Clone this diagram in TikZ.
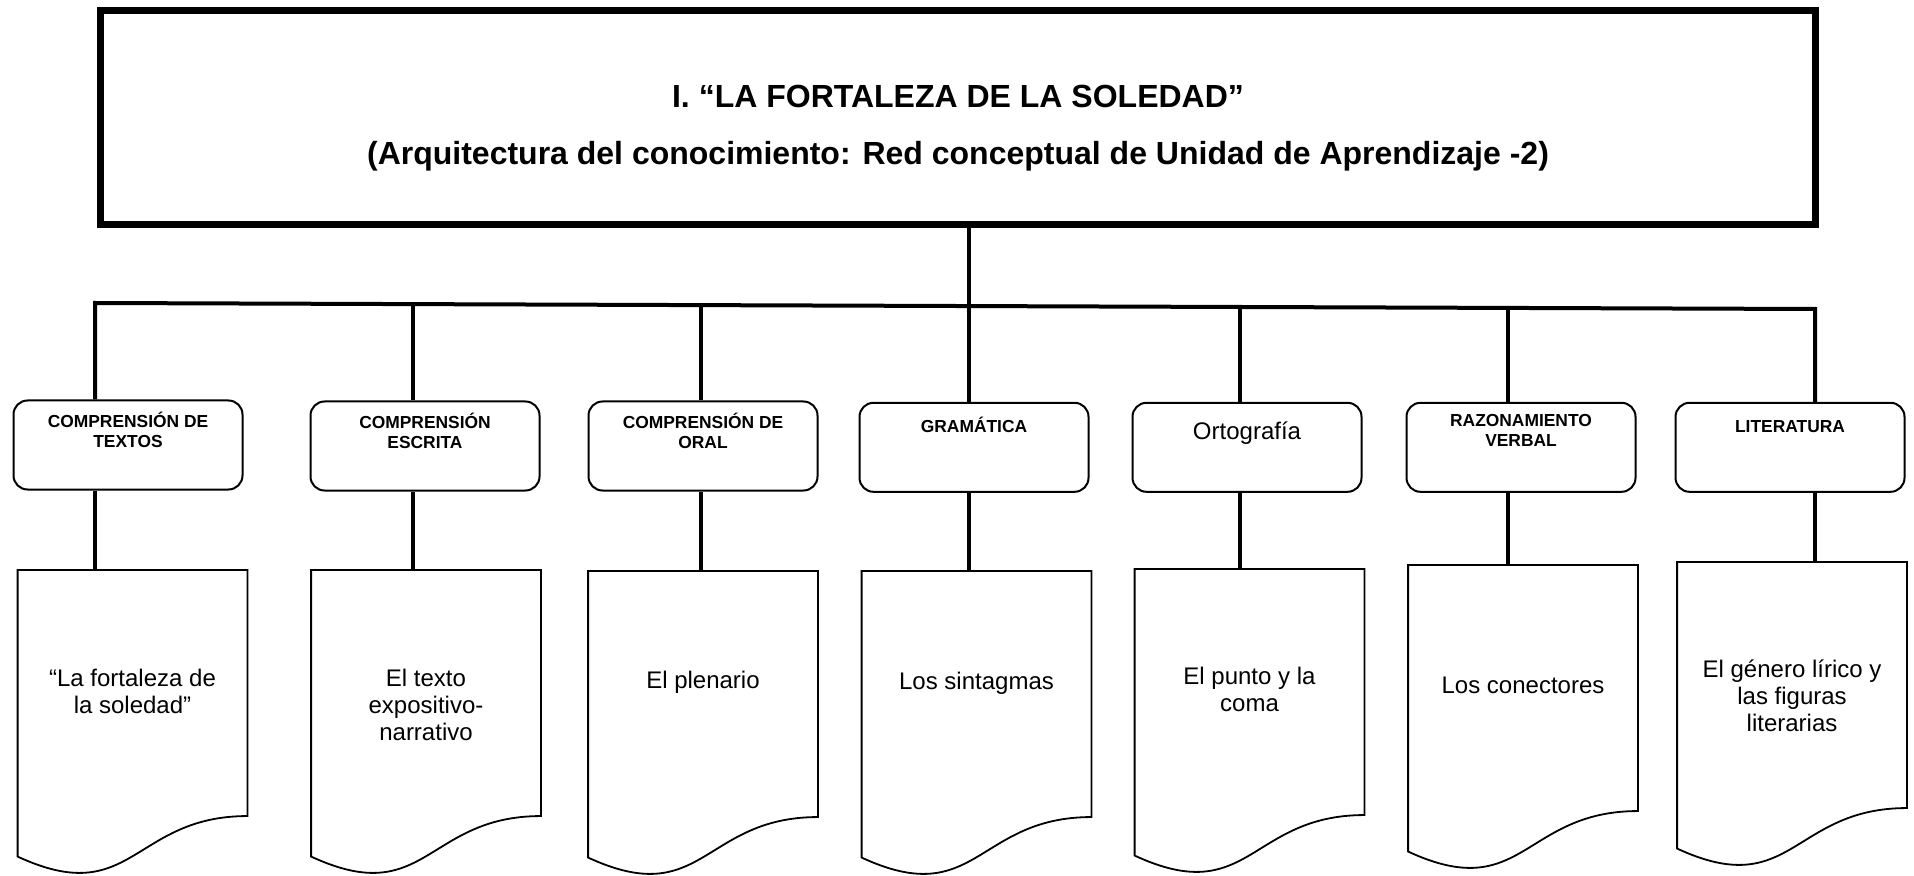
\documentclass[tikz,border=0pt]{standalone}
\usepackage{fontspec}
\setmainfont{Liberation Sans}
\usetikzlibrary{calc}

% outline of a flowchart document (wavy bottom) around a named node
\newcommand{\docshape}[1]{%
  \draw[docline] (#1.north west) -- (#1.north east)
    -- ($(#1.north east)!0.802!(#1.south east)$)
    .. controls ($(#1.north)!0.802!(#1.south)$) and ($(#1.north)!1.1075!(#1.south)$)
    .. ($(#1.north west)!0.934!(#1.south west)$) -- cycle;}

\begin{document}
\begin{tikzpicture}[x=0.5pt,y=-0.5pt,
      titlebox/.style={draw,line width=3.5pt,minimum width=857.5pt,minimum height=107pt},
      titletext/.style={font=\fontsize{16}{19}\selectfont\bfseries,inner sep=0pt,anchor=base},
      catbox/.style={draw,line width=1pt,rounded corners=7pt,minimum width=114.5pt,minimum height=44.5pt},
      cattext/.style={font=\fontsize{8.7}{10}\selectfont\bfseries,align=center,anchor=north,
        inner sep=0pt,execute at begin node=\rule{0pt}{9pt}},
      docbox/.style={minimum width=114.5pt,minimum height=153pt,anchor=north,inner sep=0pt},
      doctext/.style={font=\fontsize{12}{13.5}\selectfont,align=center,anchor=north,
        inner sep=0pt,execute at begin node=\rule{0pt}{10pt}},
      docline/.style={line width=0.9pt},
      bus/.style={line width=2pt}]
      \useasboundingbox (0,0) rectangle (1914,876);

      % title
      \node[titlebox] (Root) at (958,117.5) {};
      \node[titletext] (TitleA) at (958,108) {I. “LA FORTALEZA DE LA SOLEDAD”};
      \node[titletext] (TitleB) at (958,164.5) {(Arquitectura del conocimiento: Red conceptual de Unidad de Aprendizaje -2)};

      % second level
      \node[catbox] (Cat1) at (128,445) {};
      \node[catbox] (Cat2) at (425,446) {};
      \node[catbox] (Cat3) at (703,446) {};
      \node[catbox] (Cat4) at (974,447.3) {};
      \node[catbox] (Cat5) at (1247,447.3) {};
      \node[catbox] (Cat6) at (1521,447.3) {};
      \node[catbox] (Cat7) at (1790,447.3) {};
      \node[cattext] (CatText1) at ([yshift=-6pt]Cat1.north) {COMPRENSIÓN DE\\TEXTOS};
      \node[cattext] (CatText2) at ([yshift=-6pt]Cat2.north) {COMPRENSIÓN\\ESCRITA};
      \node[cattext] (CatText3) at ([yshift=-6pt]Cat3.north) {COMPRENSIÓN DE\\ORAL};
      \node[cattext] (CatText4) at ([yshift=-6pt]Cat4.north) {GRAMÁTICA};
      \node[cattext,font=\fontsize{12}{14}\selectfont] (CatText5) at ([yshift=-9.5pt]Cat5.north) {Ortografía};
      \node[cattext] (CatText6) at ([yshift=-6pt]Cat6.north) {RAZONAMIENTO\\VERBAL};
      \node[cattext] (CatText7) at ([yshift=-6pt]Cat7.north) {LITERATURA};

      % documents
      \node[docbox] (Doc1) at (132.5,570) {};
      \node[docbox] (Doc2) at (426,570) {};
      \node[docbox] (Doc3) at (703,571) {};
      \node[docbox] (Doc4) at (976.5,571) {};
      \node[docbox] (Doc5) at (1249.5,569) {};
      \node[docbox] (Doc6) at (1523,565) {};
      \node[docbox] (Doc7) at (1792,562) {};
      \docshape{Doc1} \docshape{Doc2} \docshape{Doc3} \docshape{Doc4}
      \docshape{Doc5} \docshape{Doc6} \docshape{Doc7}
      \node[doctext] (DocText1) at ([yshift=-49.5pt]Doc1.north) {“La fortaleza de\\la soledad”};
      \node[doctext] (DocText2) at ([yshift=-49.5pt]Doc2.north) {El texto\\expositivo-\\narrativo};
      \node[doctext] (DocText3) at ([yshift=-48.5pt]Doc3.north) {El plenario};
      \node[doctext] (DocText4) at ([yshift=-49pt]Doc4.north) {Los sintagmas};
      \node[doctext] (DocText5) at ([yshift=-49pt]Doc5.north) {El punto y la\\coma};
      \node[doctext] (DocText6) at ([yshift=-54pt]Doc6.north) {Los conectores};
      \node[doctext] (DocText7) at ([yshift=-48.5pt]Doc7.north) {El género lírico y\\las figuras\\literarias};

      % connectors
      \coordinate (J1) at (95,303);
      \coordinate (J2) at (413,304);
      \coordinate (J3) at (701,305);
      \coordinate (J4) at (969,306);
      \coordinate (J5) at (1240,307);
      \coordinate (J6) at (1508,308);
      \coordinate (J7) at (1815,309);
      \draw[bus] (J4 |- Root.south) -- (J4);
      \draw[bus] (J1 |- Cat1.north) -- (J1) -- (J7) -- (J7 |- Cat7.north);
      \draw[bus] (J2) -- (J2 |- Cat2.north);
      \draw[bus] (J3) -- (J3 |- Cat3.north);
      \draw[bus] (J4) -- (J4 |- Cat4.north);
      \draw[bus] (J5) -- (J5 |- Cat5.north);
      \draw[bus] (J6) -- (J6 |- Cat6.north);
      \draw[bus] (J1 |- Cat1.south) -- (J1 |- Doc1.north);
      \draw[bus] (J2 |- Cat2.south) -- (J2 |- Doc2.north);
      \draw[bus] (J3 |- Cat3.south) -- (J3 |- Doc3.north);
      \draw[bus] (J4 |- Cat4.south) -- (J4 |- Doc4.north);
      \draw[bus] (J5 |- Cat5.south) -- (J5 |- Doc5.north);
      \draw[bus] (J6 |- Cat6.south) -- (J6 |- Doc6.north);
      \draw[bus] (J7 |- Cat7.south) -- (J7 |- Doc7.north);
\end{tikzpicture}
\end{document}
